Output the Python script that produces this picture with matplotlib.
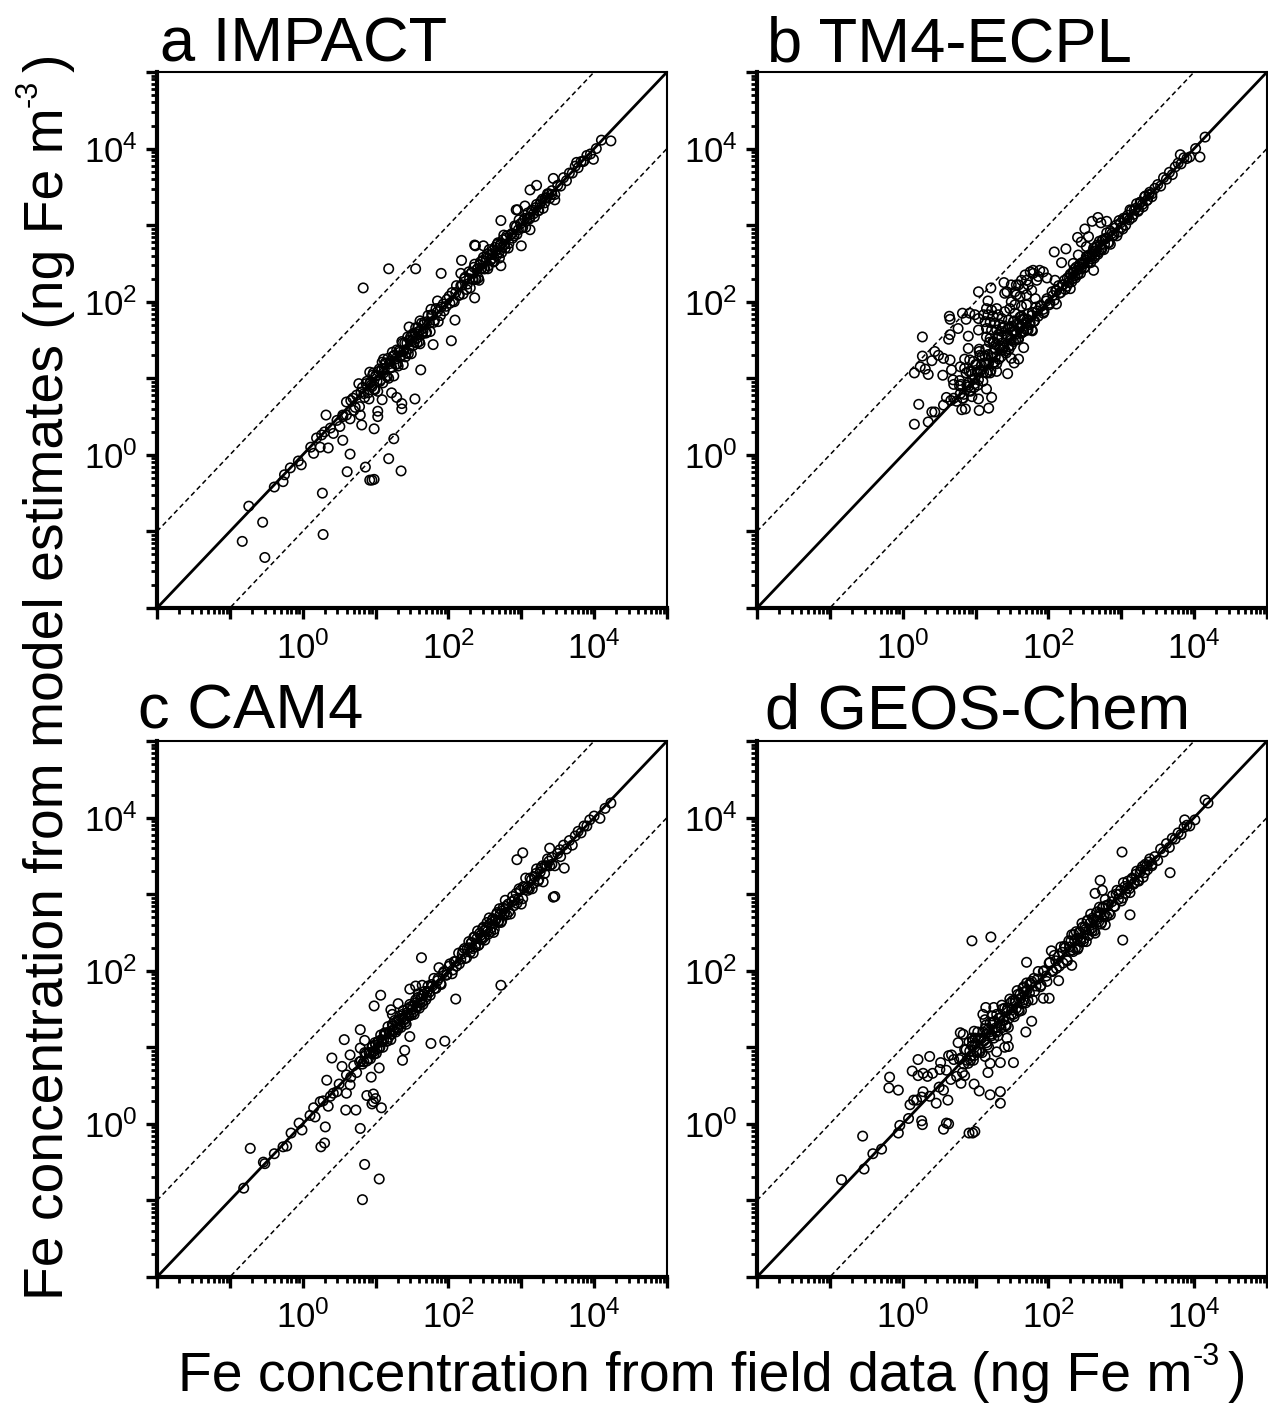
import numpy as np
import matplotlib
matplotlib.use("Agg")
import matplotlib.pyplot as plt
from matplotlib.ticker import LogLocator, NullFormatter

plt.rcParams["font.family"] = ["Liberation Sans", "DejaVu Sans"]

W, H = 1268, 1403

# all values are log10(ng Fe m-3)
# dense part of the cloud: field values shared by the panels, model/field log ratio per panel
field_x = [
    0.60, 0.66, 0.70, 0.74, 0.78, 0.82, 0.85, 0.88, 0.91, 0.93,
    0.95, 0.97, 0.99, 1.01, 1.03, 1.05, 1.07, 1.09, 1.10, 1.12,
    1.14, 1.15, 1.17, 1.18, 1.20, 1.21, 1.23, 1.25, 1.26, 1.28,
    1.29, 1.31, 1.33, 1.35, 1.36, 1.38, 1.40, 1.42, 1.44, 1.45,
    1.47, 1.49, 1.51, 1.53, 1.55, 1.57, 1.59, 1.61, 1.63, 1.65,
    1.67, 1.70, 1.72, 1.75, 1.78, 1.80, 1.83, 1.86, 1.90, 1.94,
    1.98, 2.02, 2.05, 2.08, 2.11, 2.14, 2.17, 2.20, 2.23, 2.26,
    2.28, 2.30, 2.32, 2.34, 2.36, 2.38, 2.40, 2.42, 2.44, 2.46,
    2.48, 2.50, 2.52, 2.54, 2.56, 2.58, 2.60, 2.62, 2.64, 2.66,
    2.68, 2.70, 2.72, 2.74, 2.76, 2.78, 2.80, 2.82, 2.85, 2.88,
    2.91, 2.94, 2.97, 3.00, 3.03, 3.06, 3.09, 3.12, 3.15, 3.18,
    3.21, 3.24, 3.27, 3.30, 3.33, 3.36, 3.39, 3.42, 3.46, 3.50,
    3.54, 3.58, 3.62, 3.66, 3.70, 3.74, 3.78, 3.82, 3.86, 3.90,
    0.80, 0.84, 0.87, 0.90, 0.92, 0.94, 0.96, 0.98, 1.00, 1.02,
    1.04, 1.06, 1.08, 1.11, 1.13, 1.16, 1.19, 1.22, 1.24, 1.27,
    1.30, 1.32, 1.34, 1.37, 1.39, 1.41, 1.43, 1.46, 1.48, 1.50,
    1.52, 1.54, 1.56, 1.58, 1.60, 1.62, 1.64, 1.66, 1.69, 1.71,
    1.74, 1.77, 1.81, 1.85, 1.89, 1.93, 1.97, 2.01, 2.06, 2.10,
    2.15, 2.19, 2.22, 2.25, 2.29, 2.31, 2.33, 2.35, 2.37, 2.39,
    2.41, 2.43, 2.45, 2.47, 2.49, 2.51, 2.53, 2.55, 2.57, 2.59,
    2.61, 2.63, 2.65, 2.67, 2.69, 2.71, 2.73, 2.75, 2.77, 2.79,
    2.83, 2.87, 2.90, 2.93, 2.96, 2.99, 3.02, 3.05, 3.08, 3.11,
    3.14, 3.17, 3.20, 3.23, 3.26, 3.29, 3.32, 3.35, 3.38, 3.42,
]

a_ratio = [
    -0.08, 0.05, -0.12, 0.04, -0.15, 0.06, -0.10, 0.08, -0.18, 0.02,
    -0.06, 0.10, -0.14, 0.03, -0.20, 0.07, -0.09, 0.12, -0.16, 0.00,
    0.05, -0.12, 0.09, -0.18, 0.02, -0.07, 0.11, -0.22, 0.04, -0.10,
    0.08, -0.15, 0.01, -0.05, 0.12, -0.20, 0.06, -0.09, 0.10, -0.13,
    0.03, -0.17, 0.07, -0.06, 0.11, -0.11, 0.02, -0.16, 0.09, -0.04,
    0.06, -0.10, 0.10, -0.14, 0.04, -0.07, 0.08, -0.12, 0.03, -0.06,
    0.05, -0.04, 0.07, -0.08, 0.10, -0.06, 0.04, -0.10, 0.09, -0.03,
    0.11, -0.12, 0.06, -0.05, 0.13, -0.09, 0.03, -0.14, 0.08, -0.02,
    0.10, -0.07, 0.05, -0.11, 0.12, -0.04, 0.02, -0.10, 0.07, -0.06,
    0.09, -0.13, 0.04, -0.03, 0.11, -0.08, 0.06, -0.12, 0.02, -0.05,
    0.08, -0.06, 0.10, -0.04, 0.03, -0.09, 0.07, -0.02, 0.05, -0.07,
    0.06, -0.05, 0.04, -0.08, 0.02, 0.05, -0.04, 0.03, -0.06, 0.02,
    -0.03, 0.04, -0.04, 0.02, -0.02, 0.03, -0.03, 0.01, -0.02, 0.01,
    0.02, -0.04, 0.06, -0.09, 0.01, -0.03, 0.08, -0.12, 0.03, -0.06,
    0.05, -0.10, 0.02, -0.04, 0.07, -0.14, 0.00, -0.08, 0.05, -0.02,
    -0.11, 0.04, -0.06, 0.09, -0.03, -0.13, 0.03, -0.07, 0.06, -0.01,
    -0.09, 0.05, -0.04, 0.08, -0.12, 0.01, -0.06, 0.04, -0.10, 0.03,
    -0.02, 0.06, -0.05, 0.02, -0.07, 0.04, -0.03, 0.06, -0.05, 0.02,
    -0.06, 0.03, 0.08, -0.09, 0.01, 0.06, -0.04, 0.10, -0.07, 0.03,
    -0.10, 0.05, -0.02, 0.07, -0.06, 0.02, 0.09, -0.08, 0.04, -0.03,
    0.06, -0.10, 0.01, 0.08, -0.05, 0.03, -0.09, 0.06, -0.02, 0.04,
    -0.07, 0.02, -0.04, 0.05, -0.02, 0.03, -0.05, 0.04, 0.00, -0.03,
    0.04, -0.02, 0.03, -0.04, 0.02, 0.05, -0.03, 0.01, 0.03, -0.02,
]
b_ratio = [
    0.15, 0.05, 0.22, -0.04, 0.12, -0.08, 0.28, 0.03, 0.18, -0.10,
    0.10, 0.25, -0.06, 0.16, -0.12, 0.30, 0.04, 0.20, -0.14, 0.08,
    0.24, -0.08, 0.14, 0.02, 0.32, -0.11, 0.10, 0.22, -0.05, 0.16,
    -0.10, 0.26, 0.06, -0.07, 0.18, 0.02, 0.28, -0.09, 0.12, -0.04,
    0.20, -0.06, 0.10, 0.22, -0.05, 0.14, -0.08, 0.06, 0.18, -0.04,
    0.10, -0.07, 0.12, -0.03, 0.08, -0.06, 0.10, -0.05, 0.04, -0.07,
    0.06, -0.04, 0.08, -0.06, 0.03, 0.07, -0.05, 0.02, -0.07, 0.05,
    -0.03, 0.06, -0.06, 0.04, -0.02, 0.07, -0.05, 0.03, -0.07, 0.05,
    0.01, -0.05, 0.07, -0.03, 0.05, -0.07, 0.02, 0.08, -0.04, 0.05,
    -0.06, 0.09, -0.03, 0.06, -0.08, 0.04, 0.10, -0.05, 0.07, -0.02,
    0.05, -0.08, 0.09, -0.03, 0.06, -0.06, 0.04, 0.08, -0.05, 0.02,
    0.07, -0.04, 0.03, -0.06, 0.05, -0.03, 0.04, -0.05, 0.02, 0.03,
    -0.03, 0.04, -0.02, 0.03, -0.04, 0.02, 0.03, -0.02, 0.02, -0.03,
    0.12, -0.05, 0.20, 0.04, -0.08, 0.15, 0.02, -0.10, 0.18, 0.06,
    -0.06, 0.24, 0.09, -0.03, 0.16, -0.09, 0.28, 0.05, -0.04, 0.12,
    0.22, -0.07, 0.08, 0.30, 0.01, -0.05, 0.14, -0.08, 0.04, 0.18,
    -0.04, 0.08, 0.02, -0.06, 0.05, -0.03, 0.07, -0.05, 0.03, 0.06,
    -0.04, 0.05, -0.06, 0.03, 0.06, -0.03, 0.04, -0.05, 0.02, 0.05,
    -0.04, 0.03, 0.06, -0.05, 0.02, 0.05, -0.03, 0.07, -0.06, 0.02,
    -0.04, 0.06, -0.02, 0.04, -0.05, 0.03, 0.06, -0.04, 0.02, -0.03,
    0.05, -0.06, 0.01, 0.07, -0.04, 0.03, -0.05, 0.06, -0.02, 0.04,
    -0.06, 0.02, -0.03, 0.07, -0.05, 0.04, -0.07, 0.03, 0.01, -0.04,
    0.05, -0.03, 0.02, -0.05, 0.04, -0.02, 0.05, -0.03, 0.02, -0.01,
]
c_ratio = [
    0.04, -0.05, 0.06, -0.07, 0.03, -0.04, 0.08, -0.06, 0.02, -0.08,
    0.05, -0.03, 0.07, -0.09, 0.04, -0.06, 0.09, -0.02, -0.10, 0.06,
    0.03, -0.07, 0.10, -0.05, 0.01, -0.11, 0.07, -0.03, 0.09, -0.08,
    0.05, -0.06, 0.08, -0.09, 0.02, 0.10, -0.04, -0.12, 0.06, -0.02,
    0.09, -0.07, 0.03, -0.10, 0.07, -0.05, 0.11, -0.03, 0.04, -0.09,
    0.06, -0.04, 0.08, -0.07, 0.02, 0.10, -0.06, 0.04, -0.08, 0.05,
    -0.03, 0.07, -0.09, 0.04, -0.05, 0.09, -0.02, 0.06, -0.07, 0.03,
    0.10, -0.06, 0.05, -0.11, 0.08, -0.03, 0.12, -0.08, 0.02, -0.05,
    0.09, -0.10, 0.04, -0.02, 0.13, -0.07, 0.06, -0.12, 0.03, 0.08,
    -0.05, 0.11, -0.09, 0.04, -0.03, 0.14, -0.07, 0.05, -0.11, 0.09,
    0.02, -0.06, 0.10, -0.13, 0.07, 0.15, -0.04, 0.09, -0.08, 0.05,
    0.12, -0.05, 0.07, -0.14, 0.04, 0.10, -0.02, 0.06, -0.09, 0.03,
    -0.05, 0.06, -0.03, 0.04, -0.06, 0.02, 0.04, -0.02, 0.03, -0.01,
    0.02, -0.03, 0.05, -0.05, 0.01, -0.02, 0.06, -0.07, 0.03, -0.04,
    0.04, -0.06, 0.02, -0.02, 0.06, -0.08, 0.00, -0.05, 0.04, -0.01,
    -0.07, 0.03, -0.04, 0.06, -0.02, -0.08, 0.02, -0.05, 0.05, -0.01,
    -0.06, 0.04, -0.03, 0.07, -0.09, 0.01, -0.05, 0.03, -0.07, 0.02,
    -0.02, 0.05, -0.04, 0.02, -0.06, 0.04, -0.03, 0.05, -0.05, 0.02,
    -0.06, 0.03, 0.07, -0.08, 0.01, 0.05, -0.04, 0.09, -0.06, 0.03,
    -0.08, 0.06, -0.02, 0.08, -0.05, 0.02, 0.10, -0.07, 0.04, -0.03,
    0.07, -0.09, 0.01, 0.09, -0.04, 0.03, -0.08, 0.07, -0.02, 0.05,
    -0.06, 0.03, -0.05, 0.08, -0.03, 0.06, -0.08, 0.04, 0.00, -0.04,
    0.05, -0.03, 0.07, -0.06, 0.03, 0.08, -0.05, 0.02, 0.05, -0.03,
]
d_ratio = [
    0.10, -0.08, 0.14, -0.12, 0.06, -0.15, 0.12, -0.05, 0.16, -0.10,
    0.07, -0.14, 0.13, -0.06, 0.17, -0.11, 0.04, -0.16, 0.10, -0.03,
    0.15, -0.09, 0.06, -0.18, 0.12, -0.04, 0.18, -0.13, 0.08, -0.07,
    0.14, -0.16, 0.05, -0.10, 0.19, -0.03, 0.11, -0.14, 0.07, -0.19,
    0.16, -0.06, 0.10, -0.13, 0.04, 0.17, -0.10, 0.08, -0.15, 0.12,
    -0.05, 0.14, -0.11, 0.07, -0.16, 0.10, -0.03, 0.13, -0.09, 0.06,
    -0.12, 0.09, -0.05, 0.12, -0.08, 0.05, 0.14, -0.10, 0.07, -0.13,
    0.11, -0.04, 0.15, -0.09, 0.03, 0.13, -0.12, 0.08, -0.06, 0.16,
    -0.10, 0.07, -0.14, 0.12, -0.03, 0.16, -0.08, 0.05, -0.15, 0.10,
    0.02, 0.13, -0.11, 0.08, -0.05, 0.15, -0.09, 0.04, -0.12, 0.10,
    -0.07, 0.11, 0.03, -0.09, 0.12, -0.05, 0.08, -0.10, 0.06, -0.03,
    0.09, -0.07, 0.05, -0.08, 0.06, -0.04, 0.07, -0.05, 0.03, -0.06,
    0.05, -0.03, 0.04, -0.05, 0.03, -0.02, 0.02, -0.04, 0.01, 0.00,
    0.06, -0.06, 0.10, -0.11, 0.03, -0.05, 0.12, -0.09, 0.05, -0.08,
    0.08, -0.12, 0.04, -0.03, 0.11, -0.13, 0.01, -0.07, 0.09, -0.02,
    -0.10, 0.06, -0.05, 0.13, -0.04, -0.12, 0.05, -0.08, 0.10, -0.01,
    -0.09, 0.07, -0.05, 0.11, -0.13, 0.02, -0.07, 0.06, -0.11, 0.04,
    -0.03, 0.09, -0.08, 0.04, -0.10, 0.06, -0.04, 0.09, -0.07, 0.03,
    -0.09, 0.05, 0.10, -0.11, 0.02, 0.08, -0.06, 0.12, -0.08, 0.03,
    -0.11, 0.07, -0.02, 0.10, -0.07, 0.03, 0.12, -0.09, 0.05, -0.04,
    0.08, -0.11, 0.01, 0.10, -0.05, 0.04, -0.10, 0.08, -0.03, 0.06,
    -0.08, 0.03, -0.06, 0.07, -0.03, 0.06, -0.07, 0.05, 0.00, -0.04,
    0.05, -0.04, 0.06, -0.05, 0.03, 0.07, -0.04, 0.02, 0.04, -0.03,
]

# separately readable points of each panel
a_x = [
    -0.83, -0.52, -0.55, -0.74, 0.28, 0.27, 0.61, 0.65, 0.86, 0.92,
    0.95, 0.98, 1.18, 1.35, 1.25, 0.98, 0.81, 1.03, 1.03, 0.55,
    0.32, 1.09, 1.22, 1.29, 1.36, 1.36, 1.54, 1.62, 2.04, 1.79,
    2.09, 1.46, 1.61, 0.77, 0.92, 1.11, 1.76, 0.83, 1.18, 1.55,
    1.90, 1.85, 2.18, 2.17, 2.36, 2.37, 2.48, 2.72, 2.93, 2.95,
    3.05, 3.12, 3.21, 3.44, 2.36, 2.72, 3.00, 3.12, 3.46, 3.99,
    4.10, 4.23, 3.85, 3.76, 3.95, 4.03, -0.39, -0.27, -0.25, -0.17,
    -0.06, -0.02, 0.11, 0.15, 0.24, 0.35, 0.19, 0.26, 0.42, 0.51,
    0.55, 0.65, 0.79, 0.60, 0.69, 0.47, 0.38, 0.30, 0.55, 0.72,
]
a_y = [
    -1.13, -1.34, -0.88, -0.67, -1.04, -0.50, -0.22, 0.01, -0.16, -0.33,
    -0.33, -0.32, -0.05, -0.21, 0.21, 0.34, 0.39, 0.50, 0.57, 0.19,
    0.52, 0.72, 0.81, 0.75, 0.60, 0.67, 0.73, 1.11, 1.49, 1.44,
    1.76, 1.67, 1.75, 0.93, 1.08, 1.25, 1.90, 2.18, 2.43, 2.43,
    2.37, 2.01, 2.54, 2.37, 2.74, 2.73, 2.73, 3.06, 3.20, 3.20,
    3.25, 3.46, 3.52, 3.61, 2.05, 2.47, 2.73, 2.94, 3.33, 3.86,
    4.11, 4.10, 3.83, 3.82, 3.93, 4.00, -0.42, -0.35, -0.26, -0.17,
    -0.08, -0.13, 0.10, 0.02, 0.10, 0.09, 0.22, 0.26, 0.28, 0.37,
    0.52, 0.47, 0.52, 0.69, 0.74, 0.45, 0.35, 0.30, 0.50, 0.62,
]

b_x = [
    0.16, 0.22, 0.35, 0.40, 0.44, 0.56, 0.81, 0.86, 1.05, 1.18,
    1.22, 1.15, 1.04, 0.95, 0.70, 0.83, 0.16, 0.27, 0.27, 0.35,
    0.31, 0.24, 0.44, 0.40, 0.49, 0.56, 0.65, 0.55, 0.69, 0.67,
    0.79, 0.78, 0.63, 0.65, 0.76, 0.64, 0.65, 0.82, 0.87, 0.92,
    0.99, 1.04, 0.90, 1.04, 0.90, 1.05, 0.85, 0.92, 1.04, 1.21,
    1.17, 1.39, 1.15, 1.22, 1.29, 1.11, 1.17, 1.24, 1.31, 1.36,
    1.13, 1.20, 1.27, 1.33, 1.15, 1.22, 1.29, 1.36, 1.40, 1.47,
    1.54, 1.61, 1.45, 1.52, 1.59, 1.66, 1.72, 1.77, 1.45, 1.54,
    1.63, 1.24, 1.31, 1.43, 1.49, 1.15, 1.40, 1.43, 1.49, 1.54,
    1.59, 1.63, 1.68, 1.75, 1.79, 1.88, 1.93, 1.72, 1.66, 1.56,
    1.61, 1.70, 1.77, 1.84, 1.82, 1.86, 1.98, 2.09, 1.49, 1.70,
    1.63, 1.54, 1.79, 1.70, 1.56, 2.08, 2.24, 2.18, 2.40, 2.52,
    2.41, 2.34, 2.11, 1.93, 1.78, 1.66, 1.44, 1.59, 1.53, 1.49,
    2.30, 2.62, 1.29, 1.20, 0.79, 0.90, 0.99, 1.06, 1.15, 1.27,
    1.36, 4.15, 4.08, 3.94, 3.81, 4.02, 2.60, 2.68, 2.72, 2.80,
    2.85, 2.50, 2.55, 2.45,
]
b_y = [
    0.40, 0.66, 0.43, 0.56, 0.56, 0.65, 0.59, 0.60, 0.58, 0.61,
    0.75, 0.86, 0.73, 0.76, 0.74, 0.74, 1.07, 1.29, 1.54, 1.05,
    1.12, 1.15, 1.35, 1.23, 1.30, 1.26, 1.24, 1.04, 0.98, 1.11,
    1.15, 0.97, 1.51, 1.57, 1.65, 1.81, 1.77, 1.85, 1.77, 1.85,
    1.83, 1.78, 1.55, 1.63, 1.39, 1.38, 1.25, 1.24, 2.13, 2.18,
    2.01, 2.25, 1.91, 1.89, 1.91, 1.83, 1.83, 1.81, 1.83, 1.78,
    1.74, 1.73, 1.72, 1.70, 1.65, 1.63, 1.63, 1.61, 1.87, 1.91,
    1.85, 1.80, 1.76, 1.74, 1.70, 1.78, 1.63, 1.63, 1.65, 1.61,
    1.59, 1.48, 1.54, 1.54, 1.50, 1.54, 2.11, 2.13, 2.22, 2.13,
    2.22, 2.28, 2.35, 2.39, 2.41, 2.41, 2.39, 2.22, 2.17, 2.09,
    2.07, 2.09, 2.15, 2.28, 2.04, 2.33, 2.31, 2.28, 2.00, 1.96,
    1.94, 1.96, 2.37, 2.28, 2.22, 2.65, 2.69, 2.51, 2.84, 2.72,
    2.61, 2.50, 1.97, 1.85, 1.62, 1.40, 1.06, 1.25, 1.20, 1.26,
    2.17, 2.41, 1.09, 1.07, 0.80, 0.89, 1.00, 1.09, 1.20, 1.28,
    1.37, 4.15, 3.89, 3.89, 3.92, 4.00, 3.05, 3.10, 3.03, 3.05,
    2.75, 2.95, 2.85, 2.78,
]

c_x = [
    -0.81, -0.72, -0.52, -0.54, -0.39, -0.27, -0.22, -0.16, -0.05, -0.01,
    0.10, 0.15, 0.17, 0.24, 0.35, 0.33, 0.31, 0.25, 0.30, 0.59,
    0.73, 0.79, 0.85, 1.05, 0.82, 0.88, 0.97, 1.00, 0.95, 1.08,
    0.97, 0.94, 1.05, 0.54, 0.40, 0.65, 0.57, 0.79, 0.79, 0.85,
    0.98, 1.07, 1.21, 1.23, 1.31, 1.47, 1.55, 1.64, 1.63, 1.87,
    1.37, 1.40, 1.76, 1.95, 2.10, 1.47, 0.60, 0.47, 0.65, 3.02,
    2.94, 3.44, 3.46, 3.59, 3.53, 3.39, 2.72, 4.23, 4.08, 3.94,
    4.00, 4.15, 0.42, 0.50, 0.28, 0.38,
]
c_y = [
    -0.84, -0.32, -0.52, -0.50, -0.39, -0.30, -0.29, -0.12, 0.01, -0.08,
    0.11, 0.21, 0.09, 0.29, 0.23, 0.57, -0.04, -0.30, -0.25, 0.18,
    0.18, -0.06, -0.53, -0.72, -0.99, 0.37, 0.39, 0.33, 0.26, 0.21,
    0.29, 0.61, 0.73, 0.75, 0.86, 0.90, 1.10, 0.99, 1.23, 1.09,
    1.54, 1.68, 1.49, 1.43, 1.57, 1.76, 1.80, 1.81, 2.17, 2.04,
    0.83, 0.96, 1.05, 1.08, 1.63, 1.14, 0.40, 0.42, 0.51, 3.54,
    3.45, 2.96, 2.97, 3.34, 3.58, 3.60, 1.81, 4.19, 3.99, 3.97,
    4.02, 4.12, 0.40, 0.52, 0.30, 0.36,
]

d_x = [
    -0.84, -0.55, -0.53, -0.41, -0.29, -0.06, -0.04, -0.18, -0.19, -0.06,
    0.13, 0.21, 0.37, 0.21, 0.28, 0.34, 0.41, 0.51, 0.52, 0.63,
    0.67, 0.10, 0.15, 0.08, 0.26, 0.27, 0.56, 0.60, 0.63, 0.91,
    0.96, 0.99, 0.62, 0.80, 0.85, 0.98, 1.05, 1.20, 1.34, 1.34,
    1.17, 1.34, 1.52, 1.69, 1.77, 0.76, 0.79, 0.83, 0.98, 0.95,
    1.10, 1.14, 1.25, 1.13, 1.43, 1.45, 1.40, 1.29, 1.20, 1.13,
    1.93, 2.01, 2.14, 1.70, 2.04, 2.32, 1.66, 1.75, 0.28, 0.37,
    0.46, 0.56, 0.26, 0.19, 1.21, 0.95, 2.71, 2.64, 2.74, 3.01,
    2.78, 3.02, 3.12, 3.67, 4.19, 4.15, 3.94, 3.87, 4.01, 0.50,
]
d_y = [
    -0.73, -0.16, -0.59, -0.39, -0.33, -0.12, -0.02, 0.61, 0.47, 0.44,
    0.69, 0.84, 0.88, 0.63, 0.66, 0.62, 0.66, 0.71, 0.80, 0.89,
    0.90, 0.25, 0.31, 0.07, 0.04, -0.01, -0.07, 0.01, 0.00, -0.12,
    -0.12, -0.10, 0.31, 0.53, 0.63, 0.52, 0.43, 0.38, 0.42, 0.27,
    0.67, 0.80, 0.80, 1.20, 1.34, 1.06, 1.19, 1.17, 1.21, 1.12,
    1.43, 1.52, 1.52, 1.36, 1.12, 1.01, 1.00, 0.94, 0.79, 0.88,
    1.64, 1.64, 1.87, 2.11, 2.26, 2.07, 1.79, 1.84, 0.42, 0.36,
    0.27, 0.44, 0.35, 0.31, 2.44, 2.39, 3.18, 3.01, 3.05, 3.55,
    2.60, 2.40, 2.73, 3.28, 4.19, 4.23, 3.89, 3.97, 3.97, 0.48,
]

decades = [-2, -1, 0, 1, 2, 3, 4, 5]
decade_labels = ["", "", r"$\mathregular{10^{0}}$", "", r"$\mathregular{10^{2}}$", "",
                 r"$\mathregular{10^{4}}$", ""]


def draw_panel(fig, box, title, title_x, title_y, ratio, out_x, out_y):
    left, top, right, bottom = box
    ax = fig.add_axes([left / W, 1 - bottom / H, (right - left) / W, (bottom - top) / H])
    ax.set_xscale("log")
    ax.set_yscale("log")
    lim = [1e-2, 1e5]
    ax.set_xlim(lim)
    ax.set_ylim(lim)

    line = np.array(lim)
    ax.plot(line, line, color="black", lw=2.0, zorder=2)
    ax.plot(line, line * 10, color="black", lw=1.1, ls=(0, (3.2, 2.2)), zorder=2)
    ax.plot(line, line / 10, color="black", lw=1.1, ls=(0, (3.2, 2.2)), zorder=2)

    band_x = np.array(field_x)
    xs = np.concatenate([band_x, out_x])
    ys = np.concatenate([band_x + np.array(ratio), out_y])
    ax.scatter(10.0 ** xs, 10.0 ** ys, s=46, facecolors="none", edgecolors="black",
               linewidths=1.15, zorder=3, clip_on=False)

    for axis in (ax.xaxis, ax.yaxis):
        axis.set_major_locator(plt.FixedLocator([10.0 ** d for d in decades]))
        axis.set_major_formatter(plt.FixedFormatter(decade_labels))
        axis.set_minor_locator(LogLocator(base=10, subs=np.arange(2, 10), numticks=20))
        axis.set_minor_formatter(NullFormatter())
    ax.tick_params(which="major", length=8, width=2.4, labelsize=25)
    ax.tick_params(axis="x", which="major", pad=9)
    ax.tick_params(axis="y", which="major", pad=6)
    ax.tick_params(which="minor", length=4.2, width=2.0)
    ax.spines["left"].set_linewidth(3.0)
    ax.spines["bottom"].set_linewidth(3.0)
    ax.spines["top"].set_linewidth(1.5)
    ax.spines["right"].set_linewidth(1.5)

    fig.text(title_x / W, 1 - title_y / H, title, fontsize=45.5, ha="left", va="baseline")
    return ax


def unit_label(fig, text, start, baseline, vertical=False):
    # main run, then a small raised -3 and the bracket placed after it
    renderer = fig.canvas.get_renderer()
    size_main, size_sup = 39.8, 22

    def piece(txt, along, raised, size):
        if vertical:
            x, y = baseline - raised, start - along
        else:
            x, y = start + along, baseline - raised
        return fig.text(x / W, 1 - y / H, txt, fontsize=size, ha="left", va="baseline",
                        rotation=90 if vertical else 0, rotation_mode="anchor")

    def length(artist):
        box = artist.get_window_extent(renderer)
        return box.height if vertical else box.width

    main = piece(text, 0, 0, size_main)
    pos = length(main)
    sup = piece("-3", pos, 26, size_sup)
    pos += length(sup) + 8
    piece(")", pos, 0, size_main)


fig = plt.figure(figsize=(W / 100, H / 100), dpi=100)

draw_panel(fig, (157, 72, 667, 608), "a IMPACT", 160, 61, a_ratio, a_x, a_y)
draw_panel(fig, (757, 72, 1267, 608), "b TM4-ECPL", 767, 61, b_ratio, b_x, b_y)
draw_panel(fig, (157, 741, 667, 1277), "c CAM4", 138, 729, c_ratio, c_x, c_y)
draw_panel(fig, (757, 741, 1267, 1277), "d GEOS-Chem", 765, 729, d_ratio, d_x, d_y)

unit_label(fig, "Fe concentration from model estimates (ng Fe m", 1300, 63, vertical=True)
unit_label(fig, "Fe concentration from field data (ng Fe m", 178, 1391)

fig.savefig("out.png", dpi=100)
